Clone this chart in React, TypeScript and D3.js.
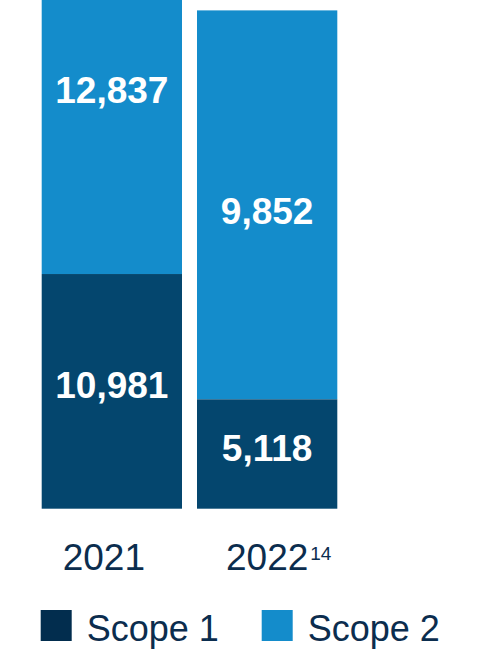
import React from "react";
import * as d3 from "d3";

// ---- data ----
const years = ["2021", "2022"];
const yearNotes = ["", "14"];
const scope1 = [10981, 5118];
const scope2 = [12837, 9852];
// bar heights of the Scope 2 segment as drawn in the (top-cropped) source, in the same units
const scope2Drawn = [17810, 18200];
const legendLabels = ["Scope 1", "Scope 2"];

const W = 480;
const H = 660;
const C1 = "#04466E";
const C2 = "#148CCB";
const C1LEG = "#022D4E";
const TXT = "#0B2D4E";
const FONT = "'Liberation Sans', Arial, Helvetica, sans-serif";

export default function App() {
  const x = d3.scaleBand<string>().domain(years).range([41.7, 337.3]).paddingInner(0.0966).paddingOuter(0);
  const y = d3.scaleLinear().domain([0, 23804]).range([508.7, 0]);

  const stack = years.map((yr, i) => {
    const s1Top = y(scope1[i]);
    const s2Top = y(scope1[i] + scope2Drawn[i]);
    return { yr, i, s1Top, s2Top, base: y(0) };
  });

  return (
    <svg width={W} height={H} style={{ position: "absolute", left: 0, top: 0, background: "#fff" }}>
      {stack.map((d) => {
        const bx = x(d.yr)!;
        const bw = x.bandwidth();
        const cx = bx + bw / 2;
        const mid1 = (d.s1Top + d.base) / 2;
        const mid2 = (d.s2Top + d.s1Top) / 2;
        return (
          <g key={d.yr}>
            <rect x={bx} y={d.s2Top} width={bw} height={d.s1Top - d.s2Top} fill={C2} />
            <rect x={bx} y={d.s1Top} width={bw} height={d.base - d.s1Top} fill={C1} />
            <text x={cx} y={mid2 + 19} textAnchor="middle" fill="#fff" fontFamily={FONT} fontWeight="bold" fontSize={37}>
              {d3.format(",")(scope2[d.i])}
            </text>
            <text x={cx} y={mid1 + 7} textAnchor="middle" fill="#fff" fontFamily={FONT} fontWeight="bold" fontSize={37}>
              {d3.format(",")(scope1[d.i])}
            </text>
            <text
              x={yearNotes[d.i] ? cx : cx - 8}
              y={570}
              textAnchor="middle"
              fill={TXT}
              fontFamily={FONT}
              fontSize={37}
            >
              {d.yr}
            </text>
            {yearNotes[d.i] && (
              <text x={cx + 43} y={560} fill={TXT} fontFamily={FONT} fontSize={19}>
                {yearNotes[d.i]}
              </text>
            )}
          </g>
        );
      })}
      {legendLabels.map((lab, i) => {
        const lx = i === 0 ? 40.7 : 261.7;
        return (
          <g key={lab}>
            <rect x={lx} y={610} width={31} height={31} fill={i === 0 ? C1LEG : C2} />
            <text x={lx + 46} y={641} fill={TXT} fontFamily={FONT} fontSize={36}>
              {lab}
            </text>
          </g>
        );
      })}
    </svg>
  );
}
